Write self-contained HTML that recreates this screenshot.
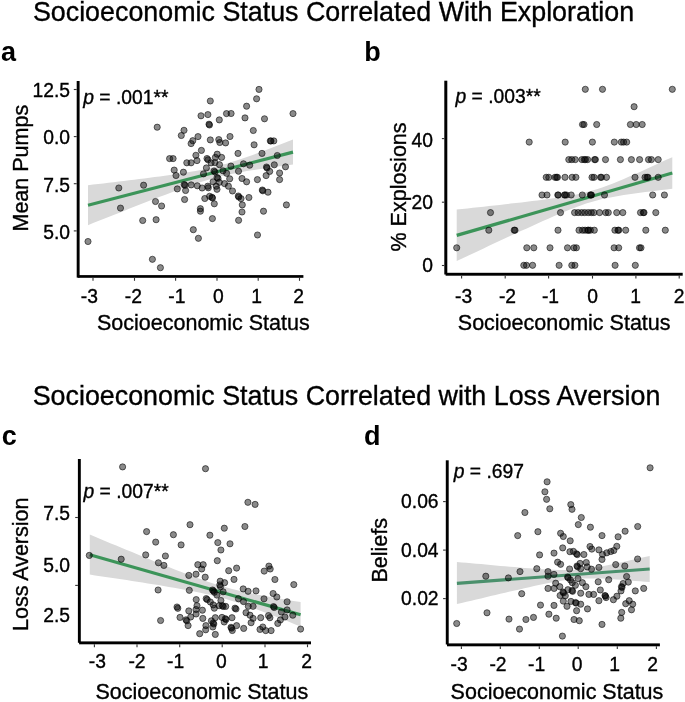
<!DOCTYPE html>
<html><head><meta charset="utf-8"><style>
html,body{margin:0;padding:0;background:#fff;}
svg{display:block;}
text{font-family:"Liberation Sans",sans-serif;stroke:#000;stroke-width:0.35px;}
text[font-weight="bold"]{stroke-width:0;}
#w{width:685px;height:702px;will-change:transform;}
</style></head><body><div id="w">
<svg width="685" height="702" viewBox="0 0 685 702">
<rect width="685" height="702" fill="#fff"/>
<text x="32.9" y="20.9" font-family="Liberation Sans" font-size="26.85" text-anchor="start" font-weight="normal" font-style="normal" fill="#000">Socioeconomic Status Correlated With Exploration</text>
<text x="32.7" y="405.3" font-family="Liberation Sans" font-size="26.85" text-anchor="start" font-weight="normal" font-style="normal" fill="#000">Socioeconomic Status Correlated with Loss Aversion</text>
<text x="1.0" y="60.7" font-family="Liberation Sans" font-size="27" text-anchor="start" font-weight="bold" font-style="normal" fill="#000">a</text>
<text x="364.3" y="61" font-family="Liberation Sans" font-size="27" text-anchor="start" font-weight="bold" font-style="normal" fill="#000">b</text>
<text x="1.8" y="445" font-family="Liberation Sans" font-size="27" text-anchor="start" font-weight="bold" font-style="normal" fill="#000">c</text>
<text x="363.9" y="444.7" font-family="Liberation Sans" font-size="27" text-anchor="start" font-weight="bold" font-style="normal" fill="#000">d</text>
<polygon points="88.0,185.2 93.1,184.6 98.2,184.0 103.4,183.4 108.5,182.8 113.6,182.2 118.8,181.6 123.9,180.9 129.0,180.3 134.1,179.7 139.2,179.1 144.4,178.4 149.5,177.8 154.6,177.1 159.8,176.4 164.9,175.7 170.0,175.0 175.1,174.2 180.2,173.5 185.4,172.7 190.5,171.8 195.6,170.9 200.8,169.9 205.9,168.9 211.0,167.7 216.1,166.5 221.2,165.1 226.4,163.7 231.5,162.1 236.6,160.5 241.8,158.8 246.9,157.0 252.0,155.2 257.1,153.3 262.2,151.4 267.4,149.5 272.5,147.5 277.6,145.6 282.8,143.6 287.9,141.6 293.0,139.6 293.0,164.6 287.9,165.3 282.8,165.9 277.6,166.6 272.5,167.3 267.4,168.0 262.2,168.7 257.1,169.5 252.0,170.3 246.9,171.1 241.8,172.0 236.6,172.9 231.5,174.0 226.4,175.1 221.2,176.3 216.1,177.6 211.0,179.0 205.9,180.5 200.8,182.1 195.6,183.7 190.5,185.5 185.4,187.3 180.2,189.1 175.1,191.0 170.0,192.9 164.9,194.9 159.8,196.8 154.6,198.8 149.5,200.8 144.4,202.8 139.2,204.8 134.1,206.8 129.0,208.8 123.9,210.9 118.8,212.9 113.6,214.9 108.5,217.0 103.4,219.0 98.2,221.1 93.1,223.1 88.0,225.2" fill="#d9d9d9"/>
<line x1="88" y1="205.2" x2="293" y2="152.1" stroke="#3c9459" stroke-width="3.2"/>
<g fill="rgba(0,0,0,0.46)" stroke="rgba(0,0,0,0.55)" stroke-width="1">
<circle cx="157.2" cy="127.2" r="3.1"/>
<circle cx="184.0" cy="130.3" r="3.1"/>
<circle cx="181.3" cy="135.5" r="3.1"/>
<circle cx="198.0" cy="136.6" r="3.1"/>
<circle cx="192.8" cy="140.7" r="3.1"/>
<circle cx="191.1" cy="143.6" r="3.1"/>
<circle cx="210.3" cy="101.0" r="3.1"/>
<circle cx="201.0" cy="115.8" r="3.1"/>
<circle cx="207.9" cy="114.6" r="3.1"/>
<circle cx="226.5" cy="113.6" r="3.1"/>
<circle cx="219.3" cy="119.9" r="3.1"/>
<circle cx="209.0" cy="124.2" r="3.1"/>
<circle cx="209.5" cy="125.0" r="3.1"/>
<circle cx="210.3" cy="139.9" r="3.1"/>
<circle cx="218.8" cy="139.6" r="3.1"/>
<circle cx="219.8" cy="142.5" r="3.1"/>
<circle cx="225.6" cy="142.9" r="3.1"/>
<circle cx="230.0" cy="136.5" r="3.1"/>
<circle cx="259.0" cy="89.4" r="3.1"/>
<circle cx="256.6" cy="98.8" r="3.1"/>
<circle cx="246.6" cy="106.2" r="3.1"/>
<circle cx="231.1" cy="113.5" r="3.1"/>
<circle cx="245.0" cy="117.9" r="3.1"/>
<circle cx="264.5" cy="118.8" r="3.1"/>
<circle cx="293.0" cy="113.6" r="3.1"/>
<circle cx="253.3" cy="130.5" r="3.1"/>
<circle cx="270.3" cy="140.9" r="3.1"/>
<circle cx="271.0" cy="141.0" r="3.1"/>
<circle cx="273.8" cy="140.9" r="3.1"/>
<circle cx="254.1" cy="144.8" r="3.1"/>
<circle cx="201.4" cy="150.4" r="3.1"/>
<circle cx="195.9" cy="155.3" r="3.1"/>
<circle cx="197.0" cy="160.6" r="3.1"/>
<circle cx="207.0" cy="158.5" r="3.1"/>
<circle cx="208.0" cy="159.8" r="3.1"/>
<circle cx="217.2" cy="154.2" r="3.1"/>
<circle cx="215.4" cy="157.4" r="3.1"/>
<circle cx="221.6" cy="157.4" r="3.1"/>
<circle cx="211.1" cy="162.9" r="3.1"/>
<circle cx="214.9" cy="162.6" r="3.1"/>
<circle cx="219.5" cy="164.7" r="3.1"/>
<circle cx="206.4" cy="167.9" r="3.1"/>
<circle cx="230.9" cy="166.1" r="3.1"/>
<circle cx="203.5" cy="173.9" r="3.1"/>
<circle cx="214.0" cy="171.0" r="3.1"/>
<circle cx="215.0" cy="172.0" r="3.1"/>
<circle cx="223.0" cy="170.8" r="3.1"/>
<circle cx="226.6" cy="173.3" r="3.1"/>
<circle cx="169.6" cy="158.6" r="3.1"/>
<circle cx="173.1" cy="158.6" r="3.1"/>
<circle cx="186.8" cy="162.8" r="3.1"/>
<circle cx="191.1" cy="162.8" r="3.1"/>
<circle cx="174.2" cy="170.1" r="3.1"/>
<circle cx="176.0" cy="175.5" r="3.1"/>
<circle cx="183.4" cy="172.2" r="3.1"/>
<circle cx="217.0" cy="177.5" r="3.1"/>
<circle cx="218.0" cy="178.3" r="3.1"/>
<circle cx="213.1" cy="181.8" r="3.1"/>
<circle cx="219.3" cy="182.3" r="3.1"/>
<circle cx="224.5" cy="183.6" r="3.1"/>
<circle cx="228.4" cy="186.2" r="3.1"/>
<circle cx="229.7" cy="178.8" r="3.1"/>
<circle cx="232.5" cy="191.0" r="3.1"/>
<circle cx="184.2" cy="184.5" r="3.1"/>
<circle cx="185.0" cy="185.3" r="3.1"/>
<circle cx="191.2" cy="184.9" r="3.1"/>
<circle cx="197.3" cy="185.8" r="3.1"/>
<circle cx="202.1" cy="188.0" r="3.1"/>
<circle cx="207.8" cy="186.2" r="3.1"/>
<circle cx="208.3" cy="187.8" r="3.1"/>
<circle cx="216.2" cy="186.2" r="3.1"/>
<circle cx="217.0" cy="189.3" r="3.1"/>
<circle cx="177.3" cy="188.9" r="3.1"/>
<circle cx="185.6" cy="190.5" r="3.1"/>
<circle cx="184.6" cy="199.5" r="3.1"/>
<circle cx="204.8" cy="198.5" r="3.1"/>
<circle cx="209.6" cy="196.3" r="3.1"/>
<circle cx="212.0" cy="197.3" r="3.1"/>
<circle cx="212.5" cy="198.0" r="3.1"/>
<circle cx="214.3" cy="203.8" r="3.1"/>
<circle cx="155.5" cy="201.5" r="3.1"/>
<circle cx="161.6" cy="206.0" r="3.1"/>
<circle cx="200.4" cy="208.7" r="3.1"/>
<circle cx="200.4" cy="211.2" r="3.1"/>
<circle cx="238.0" cy="153.4" r="3.1"/>
<circle cx="262.0" cy="153.4" r="3.1"/>
<circle cx="277.3" cy="155.5" r="3.1"/>
<circle cx="243.5" cy="163.8" r="3.1"/>
<circle cx="249.7" cy="165.2" r="3.1"/>
<circle cx="238.5" cy="171.2" r="3.1"/>
<circle cx="266.5" cy="167.0" r="3.1"/>
<circle cx="267.0" cy="168.0" r="3.1"/>
<circle cx="269.7" cy="171.4" r="3.1"/>
<circle cx="274.3" cy="164.8" r="3.1"/>
<circle cx="285.5" cy="166.8" r="3.1"/>
<circle cx="279.6" cy="173.0" r="3.1"/>
<circle cx="279.6" cy="179.6" r="3.1"/>
<circle cx="266.1" cy="175.6" r="3.1"/>
<circle cx="257.4" cy="179.6" r="3.1"/>
<circle cx="242.0" cy="178.5" r="3.1"/>
<circle cx="246.6" cy="181.8" r="3.1"/>
<circle cx="262.3" cy="190.0" r="3.1"/>
<circle cx="262.8" cy="190.8" r="3.1"/>
<circle cx="268.0" cy="192.2" r="3.1"/>
<circle cx="238.3" cy="196.0" r="3.1"/>
<circle cx="238.8" cy="197.0" r="3.1"/>
<circle cx="241.0" cy="198.6" r="3.1"/>
<circle cx="248.9" cy="197.5" r="3.1"/>
<circle cx="242.3" cy="204.9" r="3.1"/>
<circle cx="286.4" cy="204.9" r="3.1"/>
<circle cx="242.0" cy="212.0" r="3.1"/>
<circle cx="263.5" cy="211.2" r="3.1"/>
<circle cx="118.8" cy="188.0" r="3.1"/>
<circle cx="143.6" cy="185.2" r="3.1"/>
<circle cx="120.5" cy="208.1" r="3.1"/>
<circle cx="142.7" cy="220.5" r="3.1"/>
<circle cx="156.1" cy="219.7" r="3.1"/>
<circle cx="212.4" cy="218.6" r="3.1"/>
<circle cx="238.6" cy="220.3" r="3.1"/>
<circle cx="193.3" cy="229.7" r="3.1"/>
<circle cx="198.4" cy="238.3" r="3.1"/>
<circle cx="257.5" cy="235.0" r="3.1"/>
<circle cx="88.0" cy="241.5" r="3.1"/>
<circle cx="152.4" cy="259.3" r="3.1"/>
<circle cx="160.4" cy="267.7" r="3.1"/>
</g>
<rect x="76.7" y="81" width="2.90" height="196.60" fill="#000"/>
<rect x="77.8" y="275.1" width="225.60" height="2.70" fill="#000"/>
<line x1="93" y1="277.8" x2="93" y2="280.8" stroke="#333" stroke-width="1.1"/>
<line x1="134.5" y1="277.8" x2="134.5" y2="280.8" stroke="#333" stroke-width="1.1"/>
<line x1="175.6" y1="277.8" x2="175.6" y2="280.8" stroke="#333" stroke-width="1.1"/>
<line x1="217" y1="277.8" x2="217" y2="280.8" stroke="#333" stroke-width="1.1"/>
<line x1="258.2" y1="277.8" x2="258.2" y2="280.8" stroke="#333" stroke-width="1.1"/>
<line x1="299.5" y1="277.8" x2="299.5" y2="280.8" stroke="#333" stroke-width="1.1"/>
<line x1="73.8" y1="89.5" x2="76.7" y2="89.5" stroke="#333" stroke-width="1.1"/>
<line x1="73.8" y1="136.6" x2="76.7" y2="136.6" stroke="#333" stroke-width="1.1"/>
<line x1="73.8" y1="183.7" x2="76.7" y2="183.7" stroke="#333" stroke-width="1.1"/>
<line x1="73.8" y1="230.9" x2="76.7" y2="230.9" stroke="#333" stroke-width="1.1"/>
<text x="89.4" y="302.5" font-family="Liberation Sans" font-size="19.3" text-anchor="middle" font-weight="normal" font-style="normal" fill="#000">-3</text>
<text x="133.4" y="302.5" font-family="Liberation Sans" font-size="19.3" text-anchor="middle" font-weight="normal" font-style="normal" fill="#000">-2</text>
<text x="176.8" y="302.5" font-family="Liberation Sans" font-size="19.3" text-anchor="middle" font-weight="normal" font-style="normal" fill="#000">-1</text>
<text x="218.3" y="302.5" font-family="Liberation Sans" font-size="19.3" text-anchor="middle" font-weight="normal" font-style="normal" fill="#000">0</text>
<text x="256.6" y="302.5" font-family="Liberation Sans" font-size="19.3" text-anchor="middle" font-weight="normal" font-style="normal" fill="#000">1</text>
<text x="298.5" y="302.5" font-family="Liberation Sans" font-size="19.3" text-anchor="middle" font-weight="normal" font-style="normal" fill="#000">2</text>
<text x="70" y="96.80000000000001" font-family="Liberation Sans" font-size="19.3" text-anchor="end" font-weight="normal" font-style="normal" fill="#000">12.5</text>
<text x="70" y="144.0" font-family="Liberation Sans" font-size="19.3" text-anchor="end" font-weight="normal" font-style="normal" fill="#000">0.0</text>
<text x="70" y="191.8" font-family="Liberation Sans" font-size="19.3" text-anchor="end" font-weight="normal" font-style="normal" fill="#000">7.5</text>
<text x="70" y="238.9" font-family="Liberation Sans" font-size="19.3" text-anchor="end" font-weight="normal" font-style="normal" fill="#000">5.0</text>
<text x="97" y="329.5" font-family="Liberation Sans" font-size="21.5" text-anchor="start" font-weight="normal" font-style="normal" fill="#000">Socioeconomic Status</text>
<text x="27.8" y="231.5" font-family="Liberation Sans" font-size="21.5" text-anchor="start" font-weight="normal" font-style="normal" fill="#000" transform="rotate(-90 27.8 231.5)">Mean Pumps</text>
<text x="83.2" y="103.7" font-family="Liberation Sans" font-size="19.3"><tspan font-style="italic">p</tspan> = .001**</text>
<polygon points="456.7,209.6 462.1,209.0 467.5,208.4 472.9,207.8 478.3,207.3 483.6,206.7 489.0,206.1 494.4,205.5 499.8,204.9 505.2,204.2 510.6,203.6 516.0,203.0 521.4,202.4 526.8,201.7 532.2,201.1 537.5,200.4 542.9,199.7 548.3,199.0 553.7,198.2 559.1,197.5 564.5,196.6 569.9,195.7 575.3,194.7 580.7,193.5 586.1,192.3 591.4,190.8 596.8,189.2 602.2,187.4 607.6,185.5 613.0,183.4 618.4,181.2 623.8,179.0 629.2,176.6 634.6,174.3 640.0,171.9 645.3,169.5 650.7,167.0 656.1,164.6 661.5,162.1 666.9,159.6 672.3,157.2 672.3,188.8 666.9,189.5 661.5,190.1 656.1,190.8 650.7,191.4 645.3,192.1 640.0,192.8 634.6,193.5 629.2,194.3 623.8,195.1 618.4,195.9 613.0,196.9 607.6,197.9 602.2,199.1 596.8,200.4 591.4,201.9 586.1,203.6 580.7,205.4 575.3,207.4 569.9,209.5 564.5,211.7 559.1,214.0 553.7,216.3 548.3,218.7 542.9,221.0 537.5,223.5 532.2,225.9 526.8,228.4 521.4,230.8 516.0,233.3 510.6,235.8 505.2,238.3 499.8,240.8 494.4,243.3 489.0,245.8 483.6,248.4 478.3,250.9 472.9,253.4 467.5,255.9 462.1,258.5 456.7,261.0" fill="#d9d9d9"/>
<line x1="456.7" y1="235.4" x2="672.3" y2="173" stroke="#3c9459" stroke-width="3.2"/>
<g fill="rgba(0,0,0,0.46)" stroke="rgba(0,0,0,0.55)" stroke-width="1">
<circle cx="585.3" cy="89.3" r="3.1"/>
<circle cx="602.5" cy="89.3" r="3.1"/>
<circle cx="672.3" cy="89.3" r="3.1"/>
<circle cx="634.1" cy="106.7" r="3.1"/>
<circle cx="582.5" cy="124.5" r="3.1"/>
<circle cx="584" cy="124.5" r="3.1"/>
<circle cx="596.7" cy="124.5" r="3.1"/>
<circle cx="630.4" cy="124.5" r="3.1"/>
<circle cx="636.2" cy="124.5" r="3.1"/>
<circle cx="642.2" cy="124.5" r="3.1"/>
<circle cx="529.2" cy="142.1" r="3.1"/>
<circle cx="565.2" cy="142.1" r="3.1"/>
<circle cx="592.4" cy="142.1" r="3.1"/>
<circle cx="614.3" cy="142.1" r="3.1"/>
<circle cx="621.3" cy="142.1" r="3.1"/>
<circle cx="623.6" cy="142.1" r="3.1"/>
<circle cx="626.7" cy="142.1" r="3.1"/>
<circle cx="568.8" cy="159.6" r="3.1"/>
<circle cx="571.8" cy="159.6" r="3.1"/>
<circle cx="575.3" cy="159.6" r="3.1"/>
<circle cx="581.9" cy="159.6" r="3.1"/>
<circle cx="584.3" cy="159.6" r="3.1"/>
<circle cx="585.5" cy="159.6" r="3.1"/>
<circle cx="587.6" cy="159.6" r="3.1"/>
<circle cx="594.6" cy="159.6" r="3.1"/>
<circle cx="595.4" cy="159.6" r="3.1"/>
<circle cx="605.5" cy="159.6" r="3.1"/>
<circle cx="620.4" cy="159.6" r="3.1"/>
<circle cx="631.4" cy="159.6" r="3.1"/>
<circle cx="639.6" cy="159.6" r="3.1"/>
<circle cx="648.5" cy="159.6" r="3.1"/>
<circle cx="651.4" cy="159.6" r="3.1"/>
<circle cx="658.2" cy="159.6" r="3.1"/>
<circle cx="546.2" cy="177.3" r="3.1"/>
<circle cx="548.8" cy="177.3" r="3.1"/>
<circle cx="555" cy="177.3" r="3.1"/>
<circle cx="556.5" cy="177.3" r="3.1"/>
<circle cx="557.5" cy="177.3" r="3.1"/>
<circle cx="565" cy="177.3" r="3.1"/>
<circle cx="572.1" cy="177.3" r="3.1"/>
<circle cx="575.9" cy="177.3" r="3.1"/>
<circle cx="592" cy="177.3" r="3.1"/>
<circle cx="594" cy="177.3" r="3.1"/>
<circle cx="600.5" cy="177.3" r="3.1"/>
<circle cx="601.5" cy="177.3" r="3.1"/>
<circle cx="606.5" cy="177.3" r="3.1"/>
<circle cx="635" cy="177.3" r="3.1"/>
<circle cx="645" cy="177.3" r="3.1"/>
<circle cx="647" cy="177.3" r="3.1"/>
<circle cx="648" cy="177.3" r="3.1"/>
<circle cx="658.2" cy="177.3" r="3.1"/>
<circle cx="542" cy="195.0" r="3.1"/>
<circle cx="547" cy="195.0" r="3.1"/>
<circle cx="557.8" cy="195.0" r="3.1"/>
<circle cx="558.3" cy="195.0" r="3.1"/>
<circle cx="564.5" cy="195.0" r="3.1"/>
<circle cx="565" cy="195.0" r="3.1"/>
<circle cx="566.5" cy="195.0" r="3.1"/>
<circle cx="571.2" cy="195.0" r="3.1"/>
<circle cx="582.3" cy="195.0" r="3.1"/>
<circle cx="590.3" cy="195.0" r="3.1"/>
<circle cx="591" cy="195.0" r="3.1"/>
<circle cx="591.5" cy="195.0" r="3.1"/>
<circle cx="604.5" cy="195.0" r="3.1"/>
<circle cx="652.7" cy="195.0" r="3.1"/>
<circle cx="664.4" cy="195.0" r="3.1"/>
<circle cx="490.5" cy="212.6" r="3.1"/>
<circle cx="560.5" cy="212.6" r="3.1"/>
<circle cx="574.6" cy="212.6" r="3.1"/>
<circle cx="578.1" cy="212.6" r="3.1"/>
<circle cx="581.6" cy="212.6" r="3.1"/>
<circle cx="584.7" cy="212.6" r="3.1"/>
<circle cx="588.2" cy="212.6" r="3.1"/>
<circle cx="591.3" cy="212.6" r="3.1"/>
<circle cx="593.9" cy="212.6" r="3.1"/>
<circle cx="599.6" cy="212.6" r="3.1"/>
<circle cx="605.7" cy="212.6" r="3.1"/>
<circle cx="608.3" cy="212.6" r="3.1"/>
<circle cx="616.7" cy="212.6" r="3.1"/>
<circle cx="622.8" cy="212.6" r="3.1"/>
<circle cx="640.5" cy="212.6" r="3.1"/>
<circle cx="643.3" cy="212.6" r="3.1"/>
<circle cx="644" cy="212.6" r="3.1"/>
<circle cx="655.8" cy="212.6" r="3.1"/>
<circle cx="488.8" cy="230.2" r="3.1"/>
<circle cx="514.2" cy="230.2" r="3.1"/>
<circle cx="515" cy="230.2" r="3.1"/>
<circle cx="558" cy="230.2" r="3.1"/>
<circle cx="579" cy="230.2" r="3.1"/>
<circle cx="582.5" cy="230.2" r="3.1"/>
<circle cx="585.1" cy="230.2" r="3.1"/>
<circle cx="587.8" cy="230.2" r="3.1"/>
<circle cx="588.5" cy="230.2" r="3.1"/>
<circle cx="590.4" cy="230.2" r="3.1"/>
<circle cx="594.3" cy="230.2" r="3.1"/>
<circle cx="614.9" cy="230.2" r="3.1"/>
<circle cx="618" cy="230.2" r="3.1"/>
<circle cx="618.8" cy="230.2" r="3.1"/>
<circle cx="625.7" cy="230.2" r="3.1"/>
<circle cx="645.8" cy="230.2" r="3.1"/>
<circle cx="665.3" cy="230.2" r="3.1"/>
<circle cx="456.7" cy="247.8" r="3.1"/>
<circle cx="526.8" cy="247.8" r="3.1"/>
<circle cx="533.8" cy="247.8" r="3.1"/>
<circle cx="550" cy="247.8" r="3.1"/>
<circle cx="567.5" cy="247.8" r="3.1"/>
<circle cx="573.9" cy="247.8" r="3.1"/>
<circle cx="576.4" cy="247.8" r="3.1"/>
<circle cx="614.1" cy="247.8" r="3.1"/>
<circle cx="618.7" cy="247.8" r="3.1"/>
<circle cx="639.5" cy="247.8" r="3.1"/>
<circle cx="641" cy="247.8" r="3.1"/>
<circle cx="523.8" cy="265.3" r="3.1"/>
<circle cx="526.5" cy="265.3" r="3.1"/>
<circle cx="532.6" cy="265.3" r="3.1"/>
<circle cx="559.1" cy="265.3" r="3.1"/>
<circle cx="571.8" cy="265.3" r="3.1"/>
<circle cx="574.9" cy="265.3" r="3.1"/>
<circle cx="615.1" cy="265.3" r="3.1"/>
<circle cx="635.3" cy="265.3" r="3.1"/>
</g>
<rect x="444.3" y="80.7" width="3.00" height="193.80" fill="#000"/>
<rect x="445.6" y="272.8" width="237.10" height="2.90" fill="#000"/>
<line x1="461.6" y1="275.7" x2="461.6" y2="278.6" stroke="#333" stroke-width="1.1"/>
<line x1="505.2" y1="275.7" x2="505.2" y2="278.6" stroke="#333" stroke-width="1.1"/>
<line x1="548.6" y1="275.7" x2="548.6" y2="278.6" stroke="#333" stroke-width="1.1"/>
<line x1="592.5" y1="275.7" x2="592.5" y2="278.6" stroke="#333" stroke-width="1.1"/>
<line x1="635.9" y1="275.7" x2="635.9" y2="278.6" stroke="#333" stroke-width="1.1"/>
<line x1="679.2" y1="275.7" x2="679.2" y2="278.6" stroke="#333" stroke-width="1.1"/>
<line x1="441.9" y1="138.6" x2="444.3" y2="138.6" stroke="#333" stroke-width="1.1"/>
<line x1="441.9" y1="202.2" x2="444.3" y2="202.2" stroke="#333" stroke-width="1.1"/>
<line x1="441.9" y1="265.5" x2="444.3" y2="265.5" stroke="#333" stroke-width="1.1"/>
<text x="463.7" y="303.0" font-family="Liberation Sans" font-size="19.3" text-anchor="middle" font-weight="normal" font-style="normal" fill="#000">-3</text>
<text x="507.5" y="303.0" font-family="Liberation Sans" font-size="19.3" text-anchor="middle" font-weight="normal" font-style="normal" fill="#000">-2</text>
<text x="550.5" y="303.0" font-family="Liberation Sans" font-size="19.3" text-anchor="middle" font-weight="normal" font-style="normal" fill="#000">-1</text>
<text x="592.7" y="303.0" font-family="Liberation Sans" font-size="19.3" text-anchor="middle" font-weight="normal" font-style="normal" fill="#000">0</text>
<text x="635.5" y="303.0" font-family="Liberation Sans" font-size="19.3" text-anchor="middle" font-weight="normal" font-style="normal" fill="#000">1</text>
<text x="679" y="303.0" font-family="Liberation Sans" font-size="19.3" text-anchor="middle" font-weight="normal" font-style="normal" fill="#000">2</text>
<text x="432.9" y="147.20000000000002" font-family="Liberation Sans" font-size="19.3" text-anchor="end" font-weight="normal" font-style="normal" fill="#000">40</text>
<text x="432.9" y="209.4" font-family="Liberation Sans" font-size="19.3" text-anchor="end" font-weight="normal" font-style="normal" fill="#000">20</text>
<text x="432.9" y="271.59999999999997" font-family="Liberation Sans" font-size="19.3" text-anchor="end" font-weight="normal" font-style="normal" fill="#000">0</text>
<text x="457.8" y="330" font-family="Liberation Sans" font-size="21.5" text-anchor="start" font-weight="normal" font-style="normal" fill="#000">Socioeconomic Status</text>
<text x="405.6" y="251.5" font-family="Liberation Sans" font-size="21.5" text-anchor="start" font-weight="normal" font-style="normal" fill="#000" transform="rotate(-90 405.6 251.5)">% Explosions</text>
<text x="455.5" y="102.8" font-family="Liberation Sans" font-size="19.3"><tspan font-style="italic">p</tspan> = .003**</text>
<polygon points="89.8,534.6 95.1,536.8 100.3,539.0 105.6,541.2 110.9,543.4 116.2,545.6 121.4,547.8 126.7,550.0 132.0,552.1 137.2,554.3 142.5,556.5 147.8,558.6 153.0,560.8 158.3,562.9 163.6,565.0 168.8,567.1 174.1,569.2 179.4,571.2 184.7,573.3 189.9,575.3 195.2,577.2 200.5,579.1 205.7,581.0 211.0,582.7 216.3,584.4 221.6,586.0 226.8,587.5 232.1,588.9 237.4,590.3 242.6,591.5 247.9,592.7 253.2,593.8 258.4,594.8 263.7,595.8 269.0,596.8 274.2,597.7 279.5,598.6 284.8,599.5 290.1,600.4 295.3,601.3 300.6,602.1 300.6,626.5 295.3,624.4 290.1,622.2 284.8,620.1 279.5,618.0 274.2,616.0 269.0,613.9 263.7,611.9 258.4,609.9 253.2,608.0 247.9,606.1 242.6,604.3 237.4,602.5 232.1,600.9 226.8,599.3 221.6,597.8 216.3,596.4 211.0,595.1 205.7,593.9 200.5,592.8 195.2,591.7 189.9,590.6 184.7,589.7 179.4,588.7 174.1,587.8 168.8,586.9 163.6,586.0 158.3,585.1 153.0,584.3 147.8,583.4 142.5,582.6 137.2,581.8 132.0,580.9 126.7,580.1 121.4,579.3 116.2,578.5 110.9,577.7 105.6,577.0 100.3,576.2 95.1,575.4 89.8,574.6" fill="#d9d9d9"/>
<line x1="89.8" y1="554.7" x2="300.6" y2="614.8" stroke="#3c9459" stroke-width="3.2"/>
<g fill="rgba(0,0,0,0.46)" stroke="rgba(0,0,0,0.55)" stroke-width="1">
<circle cx="122.6" cy="466.9" r="3.1"/>
<circle cx="205.5" cy="468.7" r="3.1"/>
<circle cx="146.6" cy="531.6" r="3.1"/>
<circle cx="155.7" cy="542.1" r="3.1"/>
<circle cx="173.4" cy="534.7" r="3.1"/>
<circle cx="190.0" cy="524.7" r="3.1"/>
<circle cx="181.1" cy="544.9" r="3.1"/>
<circle cx="247.9" cy="502.3" r="3.1"/>
<circle cx="255.1" cy="504.4" r="3.1"/>
<circle cx="224.3" cy="528.2" r="3.1"/>
<circle cx="244.9" cy="526.5" r="3.1"/>
<circle cx="209.9" cy="535.2" r="3.1"/>
<circle cx="217.8" cy="542.6" r="3.1"/>
<circle cx="230.0" cy="543.8" r="3.1"/>
<circle cx="220.9" cy="550.0" r="3.1"/>
<circle cx="89.3" cy="555.4" r="3.1"/>
<circle cx="121.2" cy="559.2" r="3.1"/>
<circle cx="145.7" cy="554.9" r="3.1"/>
<circle cx="165.4" cy="556.0" r="3.1"/>
<circle cx="158.4" cy="562.8" r="3.1"/>
<circle cx="163.9" cy="565.4" r="3.1"/>
<circle cx="158.1" cy="590.0" r="3.1"/>
<circle cx="177.0" cy="607.0" r="3.1"/>
<circle cx="177.8" cy="608.3" r="3.1"/>
<circle cx="160.6" cy="620.5" r="3.1"/>
<circle cx="217.3" cy="560.7" r="3.1"/>
<circle cx="197.8" cy="564.7" r="3.1"/>
<circle cx="203.2" cy="564.7" r="3.1"/>
<circle cx="201.7" cy="569.0" r="3.1"/>
<circle cx="188.8" cy="575.4" r="3.1"/>
<circle cx="196.0" cy="574.2" r="3.1"/>
<circle cx="228.7" cy="570.7" r="3.1"/>
<circle cx="236.6" cy="568.1" r="3.1"/>
<circle cx="189.3" cy="590.3" r="3.1"/>
<circle cx="205.2" cy="577.2" r="3.1"/>
<circle cx="234.0" cy="579.4" r="3.1"/>
<circle cx="220.2" cy="581.2" r="3.1"/>
<circle cx="224.6" cy="582.7" r="3.1"/>
<circle cx="219.8" cy="584.9" r="3.1"/>
<circle cx="220.5" cy="586.7" r="3.1"/>
<circle cx="212.5" cy="590.0" r="3.1"/>
<circle cx="213.3" cy="590.8" r="3.1"/>
<circle cx="214.3" cy="592.2" r="3.1"/>
<circle cx="216.9" cy="595.1" r="3.1"/>
<circle cx="223.1" cy="591.8" r="3.1"/>
<circle cx="243.2" cy="588.9" r="3.1"/>
<circle cx="238.4" cy="598.7" r="3.1"/>
<circle cx="243.5" cy="601.6" r="3.1"/>
<circle cx="206.2" cy="598.6" r="3.1"/>
<circle cx="207.2" cy="599.6" r="3.1"/>
<circle cx="210.3" cy="602.0" r="3.1"/>
<circle cx="213.2" cy="604.9" r="3.1"/>
<circle cx="214.3" cy="608.2" r="3.1"/>
<circle cx="220.9" cy="600.5" r="3.1"/>
<circle cx="219.1" cy="605.7" r="3.1"/>
<circle cx="222.3" cy="605.6" r="3.1"/>
<circle cx="223.2" cy="606.5" r="3.1"/>
<circle cx="225.7" cy="606.4" r="3.1"/>
<circle cx="235.0" cy="608.2" r="3.1"/>
<circle cx="236.0" cy="609.0" r="3.1"/>
<circle cx="196.2" cy="599.6" r="3.1"/>
<circle cx="197.0" cy="605.7" r="3.1"/>
<circle cx="196.0" cy="609.5" r="3.1"/>
<circle cx="202.4" cy="610.2" r="3.1"/>
<circle cx="196.1" cy="614.0" r="3.1"/>
<circle cx="188.8" cy="610.9" r="3.1"/>
<circle cx="180.0" cy="617.4" r="3.1"/>
<circle cx="186.0" cy="619.8" r="3.1"/>
<circle cx="186.8" cy="620.8" r="3.1"/>
<circle cx="190.7" cy="617.0" r="3.1"/>
<circle cx="202.8" cy="618.4" r="3.1"/>
<circle cx="188.1" cy="625.6" r="3.1"/>
<circle cx="215.3" cy="617.7" r="3.1"/>
<circle cx="211.4" cy="620.8" r="3.1"/>
<circle cx="213.2" cy="623.0" r="3.1"/>
<circle cx="213.8" cy="624.0" r="3.1"/>
<circle cx="222.0" cy="617.4" r="3.1"/>
<circle cx="225.3" cy="618.7" r="3.1"/>
<circle cx="226.0" cy="619.5" r="3.1"/>
<circle cx="224.2" cy="622.0" r="3.1"/>
<circle cx="232.0" cy="617.7" r="3.1"/>
<circle cx="205.9" cy="625.6" r="3.1"/>
<circle cx="205.7" cy="629.8" r="3.1"/>
<circle cx="212.8" cy="627.0" r="3.1"/>
<circle cx="199.7" cy="633.7" r="3.1"/>
<circle cx="215.3" cy="634.4" r="3.1"/>
<circle cx="236.6" cy="625.6" r="3.1"/>
<circle cx="231.0" cy="627.3" r="3.1"/>
<circle cx="231.6" cy="628.2" r="3.1"/>
<circle cx="232.3" cy="630.5" r="3.1"/>
<circle cx="268.9" cy="566.1" r="3.1"/>
<circle cx="270.2" cy="569.0" r="3.1"/>
<circle cx="264.2" cy="571.1" r="3.1"/>
<circle cx="274.9" cy="579.5" r="3.1"/>
<circle cx="293.8" cy="584.6" r="3.1"/>
<circle cx="248.1" cy="591.3" r="3.1"/>
<circle cx="256.0" cy="590.9" r="3.1"/>
<circle cx="273.1" cy="593.5" r="3.1"/>
<circle cx="276.8" cy="597.0" r="3.1"/>
<circle cx="264.0" cy="598.8" r="3.1"/>
<circle cx="287.1" cy="601.8" r="3.1"/>
<circle cx="248.3" cy="606.3" r="3.1"/>
<circle cx="253.1" cy="606.3" r="3.1"/>
<circle cx="273.5" cy="606.6" r="3.1"/>
<circle cx="274.2" cy="607.5" r="3.1"/>
<circle cx="281.4" cy="612.0" r="3.1"/>
<circle cx="287.1" cy="609.9" r="3.1"/>
<circle cx="292.8" cy="615.2" r="3.1"/>
<circle cx="284.9" cy="617.0" r="3.1"/>
<circle cx="246.0" cy="612.7" r="3.1"/>
<circle cx="250.0" cy="615.2" r="3.1"/>
<circle cx="253.1" cy="618.4" r="3.1"/>
<circle cx="251.1" cy="622.7" r="3.1"/>
<circle cx="260.7" cy="617.7" r="3.1"/>
<circle cx="268.5" cy="615.6" r="3.1"/>
<circle cx="269.9" cy="617.7" r="3.1"/>
<circle cx="280.4" cy="619.9" r="3.1"/>
<circle cx="277.8" cy="623.4" r="3.1"/>
<circle cx="243.7" cy="628.4" r="3.1"/>
<circle cx="260.0" cy="629.4" r="3.1"/>
<circle cx="262.8" cy="627.0" r="3.1"/>
<circle cx="265.7" cy="630.6" r="3.1"/>
<circle cx="271.1" cy="630.6" r="3.1"/>
<circle cx="300.6" cy="629.1" r="3.1"/>
</g>
<rect x="77.9" y="459" width="2.90" height="183.80" fill="#000"/>
<rect x="79.1" y="641.4" width="231.90" height="2.90" fill="#000"/>
<line x1="94.4" y1="644.3" x2="94.4" y2="647.2" stroke="#333" stroke-width="1.1"/>
<line x1="137" y1="644.3" x2="137" y2="647.2" stroke="#333" stroke-width="1.1"/>
<line x1="179.7" y1="644.3" x2="179.7" y2="647.2" stroke="#333" stroke-width="1.1"/>
<line x1="222.2" y1="644.3" x2="222.2" y2="647.2" stroke="#333" stroke-width="1.1"/>
<line x1="265" y1="644.3" x2="265" y2="647.2" stroke="#333" stroke-width="1.1"/>
<line x1="307.5" y1="644.3" x2="307.5" y2="647.2" stroke="#333" stroke-width="1.1"/>
<line x1="75.2" y1="517.5" x2="77.9" y2="517.5" stroke="#333" stroke-width="1.1"/>
<line x1="75.2" y1="585.4" x2="77.9" y2="585.4" stroke="#333" stroke-width="1.1"/>
<text x="97.4" y="667.8" font-family="Liberation Sans" font-size="19.3" text-anchor="middle" font-weight="normal" font-style="normal" fill="#000">-3</text>
<text x="137" y="667.8" font-family="Liberation Sans" font-size="19.3" text-anchor="middle" font-weight="normal" font-style="normal" fill="#000">-2</text>
<text x="175.6" y="667.8" font-family="Liberation Sans" font-size="19.3" text-anchor="middle" font-weight="normal" font-style="normal" fill="#000">-1</text>
<text x="221.3" y="667.8" font-family="Liberation Sans" font-size="19.3" text-anchor="middle" font-weight="normal" font-style="normal" fill="#000">0</text>
<text x="263" y="667.8" font-family="Liberation Sans" font-size="19.3" text-anchor="middle" font-weight="normal" font-style="normal" fill="#000">1</text>
<text x="306.7" y="667.8" font-family="Liberation Sans" font-size="19.3" text-anchor="middle" font-weight="normal" font-style="normal" fill="#000">2</text>
<text x="70" y="519.8" font-family="Liberation Sans" font-size="19.3" text-anchor="end" font-weight="normal" font-style="normal" fill="#000">7.5</text>
<text x="70" y="571.5999999999999" font-family="Liberation Sans" font-size="19.3" text-anchor="end" font-weight="normal" font-style="normal" fill="#000">5.0</text>
<text x="70" y="622.3" font-family="Liberation Sans" font-size="19.3" text-anchor="end" font-weight="normal" font-style="normal" fill="#000">2.5</text>
<text x="95.5" y="699" font-family="Liberation Sans" font-size="21.5" text-anchor="start" font-weight="normal" font-style="normal" fill="#000">Socioeconomic Status</text>
<text x="27.7" y="631" font-family="Liberation Sans" font-size="21.5" text-anchor="start" font-weight="normal" font-style="normal" fill="#000" transform="rotate(-90 27.7 631)">Loss Aversion</text>
<text x="83.5" y="497.6" font-family="Liberation Sans" font-size="19.3"><tspan font-style="italic">p</tspan> = .007**</text>
<polygon points="456.9,561.9 461.7,562.4 466.5,562.8 471.4,563.2 476.2,563.7 481.0,564.1 485.8,564.6 490.6,565.0 495.5,565.5 500.3,565.9 505.1,566.3 509.9,566.7 514.7,567.1 519.6,567.5 524.4,567.9 529.2,568.3 534.0,568.7 538.8,569.0 543.7,569.3 548.5,569.6 553.3,569.8 558.1,570.0 562.9,570.1 567.8,570.1 572.6,569.9 577.4,569.7 582.2,569.3 587.0,568.7 591.9,568.0 596.7,567.3 601.5,566.4 606.3,565.5 611.1,564.5 616.0,563.5 620.8,562.4 625.6,561.4 630.4,560.3 635.2,559.2 640.1,558.1 644.9,557.0 649.7,555.9 649.7,582.1 644.9,581.7 640.1,581.3 635.2,580.9 630.4,580.5 625.6,580.1 620.8,579.8 616.0,579.4 611.1,579.1 606.3,578.8 601.5,578.6 596.7,578.4 591.9,578.4 587.0,578.4 582.2,578.5 577.4,578.8 572.6,579.3 567.8,579.8 562.9,580.5 558.1,581.3 553.3,582.2 548.5,583.1 543.7,584.1 538.8,585.1 534.0,586.1 529.2,587.2 524.4,588.3 519.6,589.4 514.7,590.5 509.9,591.6 505.1,592.7 500.3,593.8 495.5,594.9 490.6,596.1 485.8,597.2 481.0,598.4 476.2,599.5 471.4,600.7 466.5,601.8 461.7,602.9 456.9,604.1" fill="#d9d9d9"/>
<line x1="456.9" y1="583.3" x2="649.7" y2="569" stroke="#4a906c" stroke-width="3.2"/>
<g fill="rgba(0,0,0,0.46)" stroke="rgba(0,0,0,0.55)" stroke-width="1">
<circle cx="547.1" cy="481.8" r="3.1"/>
<circle cx="544.9" cy="491.8" r="3.1"/>
<circle cx="546.6" cy="499.3" r="3.1"/>
<circle cx="549.8" cy="508.8" r="3.1"/>
<circle cx="524.9" cy="512.5" r="3.1"/>
<circle cx="537.9" cy="531.7" r="3.1"/>
<circle cx="517.7" cy="535.6" r="3.1"/>
<circle cx="560.6" cy="533.3" r="3.1"/>
<circle cx="563.3" cy="536.5" r="3.1"/>
<circle cx="562.7" cy="547.9" r="3.1"/>
<circle cx="539.6" cy="554.9" r="3.1"/>
<circle cx="554.0" cy="553.1" r="3.1"/>
<circle cx="650.1" cy="467.8" r="3.1"/>
<circle cx="570.8" cy="504.6" r="3.1"/>
<circle cx="572.0" cy="509.3" r="3.1"/>
<circle cx="581.3" cy="517.5" r="3.1"/>
<circle cx="578.3" cy="524.6" r="3.1"/>
<circle cx="590.4" cy="527.2" r="3.1"/>
<circle cx="637.7" cy="526.5" r="3.1"/>
<circle cx="625.1" cy="531.2" r="3.1"/>
<circle cx="602.0" cy="535.6" r="3.1"/>
<circle cx="618.1" cy="536.8" r="3.1"/>
<circle cx="570.2" cy="540.8" r="3.1"/>
<circle cx="590.0" cy="546.5" r="3.1"/>
<circle cx="591.8" cy="549.1" r="3.1"/>
<circle cx="573.4" cy="551.4" r="3.1"/>
<circle cx="569.9" cy="551.7" r="3.1"/>
<circle cx="576.5" cy="553.8" r="3.1"/>
<circle cx="577.3" cy="554.6" r="3.1"/>
<circle cx="583.9" cy="554.5" r="3.1"/>
<circle cx="598.9" cy="549.9" r="3.1"/>
<circle cx="602.5" cy="554.5" r="3.1"/>
<circle cx="606.8" cy="552.8" r="3.1"/>
<circle cx="610.8" cy="551.5" r="3.1"/>
<circle cx="613.8" cy="550.5" r="3.1"/>
<circle cx="616.8" cy="546.3" r="3.1"/>
<circle cx="602.0" cy="559.4" r="3.1"/>
<circle cx="557.6" cy="562.2" r="3.1"/>
<circle cx="560.6" cy="564.3" r="3.1"/>
<circle cx="485.8" cy="576.2" r="3.1"/>
<circle cx="508.4" cy="577.9" r="3.1"/>
<circle cx="520.0" cy="571.6" r="3.1"/>
<circle cx="536.8" cy="568.7" r="3.1"/>
<circle cx="548.0" cy="571.6" r="3.1"/>
<circle cx="548.0" cy="576.2" r="3.1"/>
<circle cx="554.0" cy="574.4" r="3.1"/>
<circle cx="555.7" cy="583.2" r="3.1"/>
<circle cx="559.8" cy="586.7" r="3.1"/>
<circle cx="548.0" cy="588.4" r="3.1"/>
<circle cx="554.1" cy="588.4" r="3.1"/>
<circle cx="563.0" cy="592.0" r="3.1"/>
<circle cx="563.6" cy="592.8" r="3.1"/>
<circle cx="560.1" cy="595.5" r="3.1"/>
<circle cx="563.3" cy="601.1" r="3.1"/>
<circle cx="521.7" cy="593.7" r="3.1"/>
<circle cx="540.5" cy="605.1" r="3.1"/>
<circle cx="554.0" cy="605.4" r="3.1"/>
<circle cx="487.0" cy="612.8" r="3.1"/>
<circle cx="509.0" cy="619.1" r="3.1"/>
<circle cx="525.9" cy="619.5" r="3.1"/>
<circle cx="533.5" cy="617.4" r="3.1"/>
<circle cx="548.9" cy="614.2" r="3.1"/>
<circle cx="556.2" cy="618.2" r="3.1"/>
<circle cx="456.7" cy="623.5" r="3.1"/>
<circle cx="519.5" cy="629.1" r="3.1"/>
<circle cx="562.4" cy="636.1" r="3.1"/>
<circle cx="569.6" cy="569.0" r="3.1"/>
<circle cx="577.0" cy="566.0" r="3.1"/>
<circle cx="577.6" cy="566.8" r="3.1"/>
<circle cx="580.1" cy="563.4" r="3.1"/>
<circle cx="580.7" cy="568.7" r="3.1"/>
<circle cx="586.3" cy="562.5" r="3.1"/>
<circle cx="587.2" cy="566.9" r="3.1"/>
<circle cx="591.5" cy="569.2" r="3.1"/>
<circle cx="598.9" cy="567.4" r="3.1"/>
<circle cx="615.7" cy="564.6" r="3.1"/>
<circle cx="624.8" cy="566.0" r="3.1"/>
<circle cx="637.6" cy="559.0" r="3.1"/>
<circle cx="567.6" cy="577.0" r="3.1"/>
<circle cx="568.2" cy="577.8" r="3.1"/>
<circle cx="570.5" cy="580.0" r="3.1"/>
<circle cx="572.3" cy="582.7" r="3.1"/>
<circle cx="575.4" cy="585.3" r="3.1"/>
<circle cx="578.0" cy="578.6" r="3.1"/>
<circle cx="582.4" cy="582.7" r="3.1"/>
<circle cx="585.9" cy="586.7" r="3.1"/>
<circle cx="598.2" cy="581.8" r="3.1"/>
<circle cx="608.7" cy="579.7" r="3.1"/>
<circle cx="626.6" cy="576.5" r="3.1"/>
<circle cx="628.3" cy="582.1" r="3.1"/>
<circle cx="623.1" cy="583.5" r="3.1"/>
<circle cx="621.5" cy="586.6" r="3.1"/>
<circle cx="622.0" cy="587.4" r="3.1"/>
<circle cx="621.0" cy="590.9" r="3.1"/>
<circle cx="635.3" cy="590.9" r="3.1"/>
<circle cx="643.7" cy="588.4" r="3.1"/>
<circle cx="567.9" cy="589.7" r="3.1"/>
<circle cx="572.0" cy="590.5" r="3.1"/>
<circle cx="572.6" cy="591.3" r="3.1"/>
<circle cx="565.3" cy="595.8" r="3.1"/>
<circle cx="580.7" cy="593.2" r="3.1"/>
<circle cx="588.9" cy="594.4" r="3.1"/>
<circle cx="593.6" cy="594.4" r="3.1"/>
<circle cx="600.3" cy="590.0" r="3.1"/>
<circle cx="605.0" cy="595.5" r="3.1"/>
<circle cx="605.4" cy="596.1" r="3.1"/>
<circle cx="606.1" cy="597.6" r="3.1"/>
<circle cx="598.9" cy="600.7" r="3.1"/>
<circle cx="613.4" cy="599.7" r="3.1"/>
<circle cx="616.9" cy="596.2" r="3.1"/>
<circle cx="570.9" cy="601.4" r="3.1"/>
<circle cx="575.5" cy="602.5" r="3.1"/>
<circle cx="576.1" cy="603.1" r="3.1"/>
<circle cx="580.7" cy="604.2" r="3.1"/>
<circle cx="567.0" cy="606.3" r="3.1"/>
<circle cx="576.6" cy="610.7" r="3.1"/>
<circle cx="587.5" cy="608.9" r="3.1"/>
<circle cx="625.7" cy="603.7" r="3.1"/>
<circle cx="629.2" cy="600.7" r="3.1"/>
<circle cx="632.7" cy="604.2" r="3.1"/>
<circle cx="631.5" cy="609.8" r="3.1"/>
<circle cx="621.7" cy="612.4" r="3.1"/>
<circle cx="620.8" cy="618.2" r="3.1"/>
<circle cx="574.0" cy="619.5" r="3.1"/>
<circle cx="579.3" cy="620.7" r="3.1"/>
<circle cx="602.0" cy="624.4" r="3.1"/>
</g>
<rect x="445.8" y="460.3" width="2.90" height="184.20" fill="#000"/>
<rect x="447" y="643.4" width="212.90" height="2.90" fill="#000"/>
<line x1="461.4" y1="646.3" x2="461.4" y2="649" stroke="#333" stroke-width="1.1"/>
<line x1="500.3" y1="646.3" x2="500.3" y2="649" stroke="#333" stroke-width="1.1"/>
<line x1="539.3" y1="646.3" x2="539.3" y2="649" stroke="#333" stroke-width="1.1"/>
<line x1="578.2" y1="646.3" x2="578.2" y2="649" stroke="#333" stroke-width="1.1"/>
<line x1="617.3" y1="646.3" x2="617.3" y2="649" stroke="#333" stroke-width="1.1"/>
<line x1="656.4" y1="646.3" x2="656.4" y2="649" stroke="#333" stroke-width="1.1"/>
<line x1="443.1" y1="501.6" x2="445.8" y2="501.6" stroke="#333" stroke-width="1.1"/>
<line x1="443.1" y1="550.1" x2="445.8" y2="550.1" stroke="#333" stroke-width="1.1"/>
<line x1="443.1" y1="598.6" x2="445.8" y2="598.6" stroke="#333" stroke-width="1.1"/>
<text x="459.2" y="671" font-family="Liberation Sans" font-size="19.3" text-anchor="middle" font-weight="normal" font-style="normal" fill="#000">-3</text>
<text x="498" y="671" font-family="Liberation Sans" font-size="19.3" text-anchor="middle" font-weight="normal" font-style="normal" fill="#000">-2</text>
<text x="536.6" y="671" font-family="Liberation Sans" font-size="19.3" text-anchor="middle" font-weight="normal" font-style="normal" fill="#000">-1</text>
<text x="577.1" y="671" font-family="Liberation Sans" font-size="19.3" text-anchor="middle" font-weight="normal" font-style="normal" fill="#000">0</text>
<text x="614.6" y="671" font-family="Liberation Sans" font-size="19.3" text-anchor="middle" font-weight="normal" font-style="normal" fill="#000">1</text>
<text x="652.6" y="671" font-family="Liberation Sans" font-size="19.3" text-anchor="middle" font-weight="normal" font-style="normal" fill="#000">2</text>
<text x="438.6" y="508.40000000000003" font-family="Liberation Sans" font-size="19.3" text-anchor="end" font-weight="normal" font-style="normal" fill="#000">0.06</text>
<text x="438.6" y="556.9" font-family="Liberation Sans" font-size="19.3" text-anchor="end" font-weight="normal" font-style="normal" fill="#000">0.04</text>
<text x="438.6" y="605.4" font-family="Liberation Sans" font-size="19.3" text-anchor="end" font-weight="normal" font-style="normal" fill="#000">0.02</text>
<text x="450.6" y="699" font-family="Liberation Sans" font-size="21.5" text-anchor="start" font-weight="normal" font-style="normal" fill="#000">Socioeconomic Status</text>
<text x="387" y="582.5" font-family="Liberation Sans" font-size="21.5" text-anchor="start" font-weight="normal" font-style="normal" fill="#000" transform="rotate(-90 387 582.5)">Beliefs</text>
<text x="453.7" y="478.3" font-family="Liberation Sans" font-size="19.3"><tspan font-style="italic">p</tspan> = .697</text>
</svg></div>
</body></html>
